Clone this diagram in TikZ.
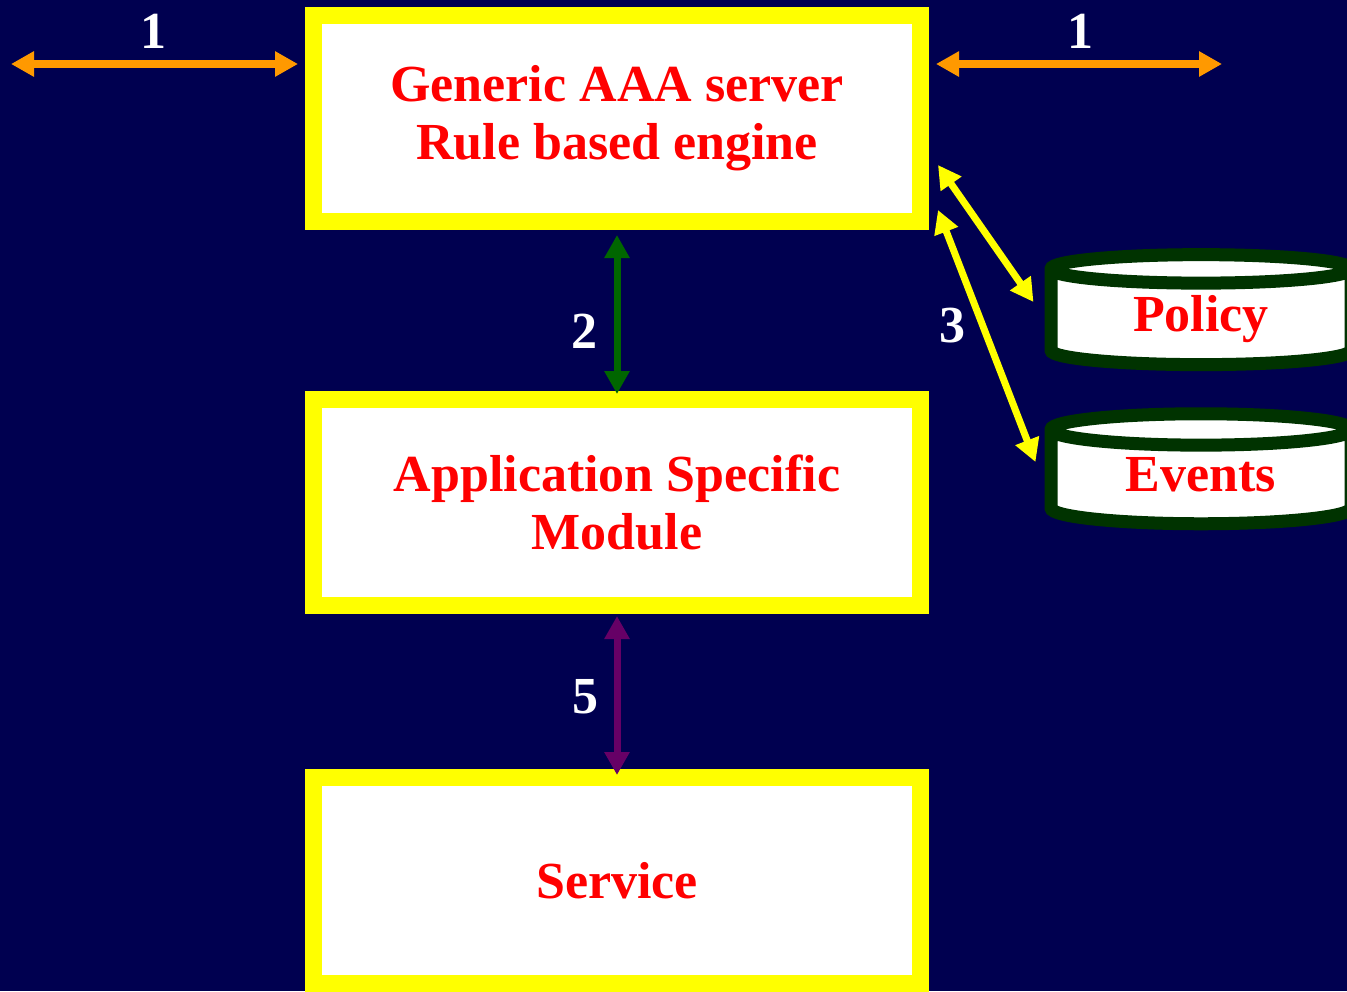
\documentclass[tikz,border=0pt]{standalone}
\usepackage{fontspec}
\setmainfont{Liberation Serif}
\usetikzlibrary{arrows.meta,shapes.geometric,calc}

\definecolor{bgnavy}{RGB}{0,0,80}
\definecolor{boxyellow}{RGB}{255,255,0}
\definecolor{textred}{RGB}{255,0,0}
\definecolor{linkorange}{RGB}{255,153,0}
\definecolor{linkgreen}{RGB}{0,102,0}
\definecolor{linkpurple}{RGB}{102,0,102}
\definecolor{dbgreen}{RGB}{0,51,0}

\tikzset{
  module/.style = {draw = boxyellow, line width = 17pt, fill = white, minimum width = 607pt, minimum height = 206pt, align = center, text = textred, font = \bfseries\fontsize{52}{58}\selectfont},
  store/.style = {cylinder, shape border rotate = 90, aspect = 0.2, draw = dbgreen, line width = 13pt, fill = white, minimum width = 300pt, minimum height = 110pt, text height = 36pt, text depth = 17pt, text = textred, font = \bfseries\fontsize{52}{58}\selectfont},
  num/.style = {text = white, inner sep = 0pt, anchor = base, font = \bfseries\fontsize{52}{58}\selectfont},
  link/.style = {line width = 7pt, {Triangle[length = 23pt, width = 24pt]}-{Triangle[length = 23pt, width = 24pt]}}
}

\begin{document}
\begin{tikzpicture}[x = 1pt, y = -1pt]
    \useasboundingbox (0,0) rectangle (1347,991);
    \fill[bgnavy] (0,0) rectangle (1347,991);

    \node[module](aaa) at (617,118.5) {Generic AAA server\\Rule based engine};
    \node[module](asm) at (617,502.5) {Application Specific\\Module};
    \node[module](service) at (617,880.5) {Service};

    \node[store](policy) at (1201,321.5) {Policy};
    \node[store](events) at (1201,481.5) {Events};

    \coordinate (farleft) at (11,64);
    \coordinate (farright) at (1222,64);

    \draw [link,linkorange,line width = 8pt] (farleft) -- (aaa.west |- farleft) [shorten >= 7pt];
    \draw [link,linkorange,line width = 8pt,shorten <= 7pt] (aaa.east |- farright) -- (farright);
    \draw [link,linkgreen,shorten <= 5pt,shorten >= -3pt] (aaa.south) -- (asm.north);
    \draw [link,linkpurple,shorten <= 2pt,shorten >= -6pt] (asm.south) -- (service.north);
    \draw [link,boxyellow] ($(aaa.east)+(9,46.5)$) -- ($(policy.west)+(-11,-19.5)$);
    \draw [link,boxyellow] ($(aaa.east)+(9,91.5)$) -- ($(events.west)+(-9,-19.5)$);

    \node[num](oneleft) at (153,48) {1};
    \node[num](oneright) at (1080,48) {1};
    \node[num](two) at (584,348) {2};
    \node[num](three) at (952,342) {3};
    \node[num](five) at (585,713) {5};
\end{tikzpicture}
\end{document}
